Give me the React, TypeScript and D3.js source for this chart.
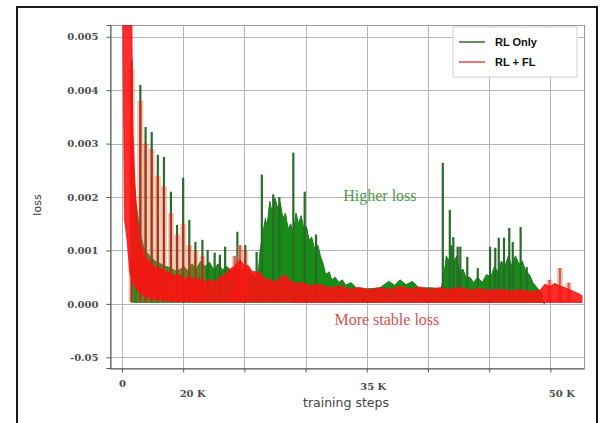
import React, { useRef, useEffect } from "react";
import * as d3 from "d3";

// x: thousands of training steps, y: loss
const xTicks = [0, 7, 14, 21, 28, 35, 42, 49];
const xTickLabels = ["0", "20 K", "", "", "35 K", "", "", "50 K"];
const yTicks = [-0.001, 0, 0.001, 0.002, 0.003, 0.004, 0.005];
const yTickLabels = ["-0.05", "0.000", "0.001", "0.002", "0.003", "0.004", "0.005"];

const seriesNames = ["RL Only", "RL + FL"];
const seriesColors = ["#2f6f3a", "#e04848"];

// RL Only: dense part of the trace [step, loss]
const rlOnlyBand: [number, number][] = [
  [1.2, 0.0028], [1.6, 0.0019], [2.1, 0.0013], [2.6, 0.001], [3.2, 0.0009],
  [3.8, 0.0008], [4.4, 0.00075], [5.0, 0.0007], [5.5, 0.00068], [6.1, 0.00062],
  [6.6, 0.00064], [7.1, 0.0007], [7.5, 0.00062], [8.0, 0.00075], [8.5, 0.00065],
  [9.0, 0.0008], [9.5, 0.0007], [10.0, 0.00078], [10.5, 0.00064], [11.0, 0.00075],
  [11.5, 0.00064], [12.0, 0.0007], [12.6, 0.0006], [13.1, 0.0007], [13.6, 0.00062],
  [14.2, 0.00068], [14.8, 0.00058], [15.2, 0.0005], [15.5, 0.0004], [15.8, 0.001],
  [16.1, 0.0013], [16.4, 0.0016], [16.6, 0.00145], [16.9, 0.00192], [17.2, 0.0017],
  [17.5, 0.00198], [17.8, 0.0018], [18.1, 0.0019], [18.4, 0.0016], [18.7, 0.0017],
  [19.0, 0.0014], [19.3, 0.0015], [19.6, 0.0013], [19.9, 0.0017], [20.2, 0.0015],
  [20.5, 0.00165], [20.8, 0.0014], [21.1, 0.00145], [21.4, 0.0012], [21.7, 0.00125],
  [22.0, 0.00105], [22.4, 0.0011], [22.7, 0.0009], [23.0, 0.00075], [23.3, 0.00055],
  [23.7, 0.0006], [24.0, 0.00045], [24.4, 0.0005], [24.8, 0.0004], [25.2, 0.00045],
  [25.6, 0.00035], [26.2, 0.0004], [26.8, 0.0003], [28.0, 0.00028], [29.5, 0.0003],
  [30.5, 0.00042], [31.2, 0.00035], [31.8, 0.00045], [32.5, 0.00036], [33.2, 0.00042],
  [34.0, 0.0003], [35.5, 0.0003], [36.5, 0.00028], [36.8, 0.0005], [37.1, 0.0009],
  [37.4, 0.0008], [37.7, 0.0011], [38.0, 0.0008], [38.3, 0.0009], [38.6, 0.0006],
  [39.0, 0.00065], [39.4, 0.00048], [39.8, 0.0005], [40.2, 0.0004], [40.7, 0.0005],
  [41.2, 0.0004], [41.7, 0.00055], [42.2, 0.0005], [42.6, 0.0007], [43.0, 0.0006],
  [43.4, 0.0008], [43.8, 0.0007], [44.2, 0.0009], [44.6, 0.0007], [45.0, 0.0009],
  [45.4, 0.00075], [45.8, 0.0008], [46.2, 0.0006], [46.6, 0.00055], [47.0, 0.0004],
  [47.5, 0.0003], [48.0, 0.0002], [48.3, 0.0],
];

// RL Only: tall spikes [step, peak loss]
const rlOnlySpikes: [number, number][] = [
  [1.1, 0.00457], [2.1, 0.0041], [2.7, 0.00331], [3.4, 0.00322], [4.1, 0.00279],
  [4.8, 0.00275], [5.6, 0.0021], [6.3, 0.00148], [7.0, 0.00236], [7.7, 0.00157],
  [8.4, 0.00116], [9.2, 0.0012], [9.8, 0.00101], [10.6, 0.00096], [11.2, 0.00092],
  [11.8, 0.00107], [13.2, 0.00135], [14.1, 0.0011], [15.4, 0.00097], [16.0, 0.00242],
  [17.3, 0.00205], [18.0, 0.002], [19.6, 0.00283], [20.9, 0.0021], [22.2, 0.0013],
  [36.7, 0.00264], [37.5, 0.00176], [37.9, 0.00125], [38.4, 0.00107], [38.7, 0.00107],
  [39.5, 0.00088], [40.7, 0.00067], [42.1, 0.00107], [42.7, 0.00105], [43.1, 0.00124],
  [43.7, 0.00124], [44.3, 0.00142], [44.7, 0.00116], [45.6, 0.00144], [46.3, 0.00069],
];

// RL + FL: band of the noisy trace [step, low, high]
const rlFlBand: [number, number, number][] = [
  [0.1, 0.0056, 0.0056], [0.3, 0.0016, 0.0056], [0.6, 0.0012, 0.0056], [0.9, 0.0006, 0.0056],
  [1.1, 0.00045, 0.0056], [1.2, 0.0004, 0.0034], [1.5, 0.00032, 0.0021], [1.7, 0.00027, 0.0016],
  [2.1, 0.0002, 0.00114], [2.6, 0.00015, 0.0009], [3.2, 0.0001, 0.00077], [3.8, 0.00009, 0.00068],
  [4.4, 0.00008, 0.00066], [5.0, 0.00007, 0.0006], [5.5, 0.00006, 0.00058], [6.1, 0.00005, 0.00052],
  [6.6, 0.00005, 0.00054], [7.2, 0.00005, 0.00046], [7.8, 0.00005, 0.0005], [8.4, 0.00004, 0.00044],
  [8.9, 0.00004, 0.00048], [9.5, 0.00004, 0.0004], [10.1, 0.00004, 0.00046], [10.6, 0.00004, 0.0004],
  [11.2, 0.00004, 0.0005], [11.8, 0.00004, 0.00055], [12.4, 0.00004, 0.00065], [12.9, 0.00004, 0.0007],
  [13.5, 0.00004, 0.00082], [14.0, 0.00004, 0.0007], [14.4, 0.00004, 0.00072], [14.9, 0.00004, 0.0006],
  [15.2, 0.00004, 0.0006], [15.8, 0.00004, 0.00058], [16.4, 0.00004, 0.00045], [16.9, 0.00004, 0.00046],
  [17.5, 0.00004, 0.0004], [18.1, 0.00004, 0.00048], [18.6, 0.00004, 0.00054], [19.2, 0.00004, 0.00044],
  [19.8, 0.00003, 0.00038], [20.4, 0.00003, 0.0004], [21.5, 0.00003, 0.00034], [22.6, 0.00003, 0.00036],
  [23.8, 0.00003, 0.0003], [24.9, 0.00003, 0.00033], [26.1, 0.00003, 0.00028], [27.2, 0.00003, 0.0003],
  [28.4, 0.00003, 0.00026], [29.5, 0.00003, 0.0003], [30.7, 0.00003, 0.00027], [31.8, 0.00003, 0.00032],
  [33.0, 0.00003, 0.00028], [34.1, 0.00003, 0.00031], [35.2, 0.00003, 0.00027], [36.4, 0.00003, 0.0003],
  [37.5, 0.00003, 0.00027], [38.7, 0.00003, 0.0003], [39.8, 0.00003, 0.00026], [41.0, 0.00003, 0.00028],
  [42.1, 0.00003, 0.00025], [43.2, 0.00003, 0.00027], [44.4, 0.00003, 0.00024], [45.5, 0.00003, 0.00026],
  [46.7, 0.00003, 0.00023], [47.8, 0.00003, 0.00025], [48.4, 0.00003, 0.00036], [49.0, 0.00003, 0.00032],
  [49.5, 0.00003, 0.00038], [50.1, 0.00003, 0.00033], [50.7, 0.00003, 0.0003], [51.2, 0.00003, 0.00026],
  [51.8, 0.00003, 0.00022], [52.3, 0.00003, 0.00018], [52.6, 0.00003, 0.00015],
];

// RL + FL: spikes [step, peak loss]
const rlFlSpikes: [number, number][] = [
  [1.1, 0.0044], [2.1, 0.0038], [2.7, 0.003], [3.4, 0.0029], [4.1, 0.0024], [4.8, 0.0022],
  [5.6, 0.0017], [6.3, 0.0013], [7.0, 0.0015], [7.7, 0.0011], [8.4, 0.001], [9.2, 0.0009],
  [12.9, 0.0009], [13.5, 0.0011], [14.1, 0.001], [48.9, 0.00045], [50.1, 0.00067], [51.1, 0.0004],
];

const annotations = [
  { text: "Higher loss", step: 29.5, loss: 0.00193, color: "#4f9a4f" },
  { text: "More stable loss", step: 30.3, loss: -0.0004, color: "#d25252" },
];

const App = () => {
  const ref = useRef<SVGSVGElement>(null);

  useEffect(() => {
    const width = 602;
    const height = 423;
    const plot = { left: 110, right: 584, top: 25, bottom: 368 };

    const svg = d3.select(ref.current).attr("width", width).attr("height", height);
    svg.selectAll("*").remove();

    const x = d3.scaleLinear().domain([-1.37, 52.85]).range([plot.left, plot.right]);
    const y = d3.scaleLinear().domain([-0.0012, 0.00522]).range([plot.bottom, plot.top]);

    // outer frame
    svg
      .append("rect")
      .attr("x", 17)
      .attr("y", 7)
      .attr("width", 580)
      .attr("height", 440)
      .attr("fill", "#fff")
      .attr("stroke", "#1a1a1a")
      .attr("stroke-width", 2);

    // grid
    const grid = svg.append("g").attr("stroke", "#b4b4b4").attr("stroke-width", 1);
    grid
      .selectAll(".hg")
      .data(yTicks)
      .enter()
      .append("line")
      .attr("x1", plot.left)
      .attr("x2", plot.right)
      .attr("y1", (d) => Math.round(y(d)) + 0.5)
      .attr("y2", (d) => Math.round(y(d)) + 0.5);
    grid
      .selectAll(".vg")
      .data(xTicks)
      .enter()
      .append("line")
      .attr("y1", plot.top)
      .attr("y2", plot.bottom)
      .attr("x1", (d) => Math.round(x(d)) + 0.5)
      .attr("x2", (d) => Math.round(x(d)) + 0.5);
    svg
      .append("rect")
      .attr("x", plot.left + 0.5)
      .attr("y", plot.top + 0.5)
      .attr("width", plot.right - plot.left)
      .attr("height", plot.bottom - plot.top)
      .attr("fill", "none")
      .attr("stroke", "#9a9a9a");

    // data
    svg
      .append("clipPath")
      .attr("id", "plot-clip")
      .append("rect")
      .attr("x", plot.left)
      .attr("y", plot.top)
      .attr("width", plot.right - plot.left)
      .attr("height", plot.bottom - plot.top);
    const g = svg.append("g").attr("clip-path", "url(#plot-clip)");

    const base = y(0.00003);

    const greenArea = d3
      .area<[number, number]>()
      .x((d) => x(d[0]))
      .y0(base)
      .y1((d) => y(d[1]));
    g.append("path")
      .attr("d", greenArea(rlOnlyBand))
      .attr("fill", "#178c17")
      .attr("stroke", "#1f7a1f")
      .attr("stroke-width", 1);

    g.selectAll(".gs")
      .data(rlOnlySpikes)
      .enter()
      .append("line")
      .attr("x1", (d) => x(d[0]))
      .attr("x2", (d) => x(d[0]))
      .attr("y1", base)
      .attr("y2", (d) => y(d[1]))
      .attr("stroke", "#2a6a2a")
      .attr("stroke-width", 2.2);

    // faint halo around the RL + FL spikes, then their cores
    g.selectAll(".rh")
      .data(rlFlSpikes)
      .enter()
      .append("line")
      .attr("x1", (d) => x(d[0]))
      .attr("x2", (d) => x(d[0]))
      .attr("y1", base)
      .attr("y2", (d) => y(d[1]))
      .attr("stroke", "#e86a3a")
      .attr("stroke-opacity", 0.38)
      .attr("stroke-width", 6);
    g.selectAll(".rs")
      .data(rlFlSpikes)
      .enter()
      .append("line")
      .attr("x1", (d) => x(d[0]))
      .attr("x2", (d) => x(d[0]))
      .attr("y1", base)
      .attr("y2", (d) => y(d[1]))
      .attr("stroke", "#c01a10")
      .attr("stroke-opacity", 0.6)
      .attr("stroke-width", 2.2);

    const redArea = d3
      .area<[number, number, number]>()
      .x((d) => x(d[0]))
      .y0((d) => y(d[1]))
      .y1((d) => y(d[2]));
    g.append("path")
      .attr("d", redArea(rlFlBand))
      .attr("fill", "#ff1010")
      .attr("fill-opacity", 0.88)
      .attr("stroke", "#f01818")
      .attr("stroke-width", 1.5)
      .attr("stroke-opacity", 0.8);

    // y axis
    const yAxis = svg
      .append("g")
      .attr("transform", `translate(${plot.left + 0.5},0)`)
      .call(
        d3
          .axisLeft(y)
          .tickValues(yTicks)
          .tickSize(4)
          .tickPadding(8)
          .tickFormat((d, i) => yTickLabels[i])
      );
    yAxis.select(".domain").attr("stroke", "#555");
    yAxis.selectAll(".tick line").attr("stroke", "#555");
    yAxis
      .selectAll(".tick text")
      .attr("fill", "#4a4a4a")
      .style("font-family", "'DejaVu Serif', serif")
      .style("font-weight", "bold")
      .style("font-size", "10px");

    // x axis
    const labelShift = [0, 9, 0, 0, 6, 0, 0, 11];
    const labelDrop = ["1.05em", "2.05em", "0", "0", "1.35em", "0", "0", "2.05em"];
    const xAxis = svg
      .append("g")
      .attr("transform", `translate(0,${plot.bottom + 0.5})`)
      .call(
        d3
          .axisBottom(x)
          .tickValues(xTicks)
          .tickSize(4)
          .tickSizeOuter(0)
          .tickPadding(4)
          .tickFormat((d, i) => xTickLabels[i])
      );
    xAxis.select(".domain").attr("stroke", "#555");
    xAxis.selectAll(".tick line").attr("stroke", "#555");
    xAxis
      .selectAll(".tick text")
      .attr("fill", "#4a4a4a")
      .attr("dx", (d, i) => labelShift[i])
      .attr("dy", (d, i) => labelDrop[i])
      .style("font-family", "'DejaVu Serif', serif")
      .style("font-weight", "bold")
      .style("font-size", "10px");

    svg
      .append("text")
      .attr("x", 346)
      .attr("y", 407)
      .attr("text-anchor", "middle")
      .attr("fill", "#444")
      .style("font-family", "'DejaVu Sans', sans-serif")
      .style("font-size", "12.5px")
      .text("training steps");

    svg
      .append("text")
      .attr("transform", "translate(41,205) rotate(-90)")
      .attr("text-anchor", "middle")
      .attr("fill", "#333")
      .style("font-family", "'DejaVu Sans', sans-serif")
      .style("font-size", "11px")
      .text("loss");

    // annotations
    svg
      .selectAll(".note")
      .data(annotations)
      .enter()
      .append("text")
      .attr("x", (d) => x(d.step))
      .attr("y", (d) => y(d.loss))
      .attr("text-anchor", "middle")
      .attr("fill", (d) => d.color)
      .style("font-family", "'Liberation Serif', serif")
      .style("font-size", "16px")
      .text((d) => d.text);

    // legend
    const legend = svg.append("g").attr("transform", "translate(453,27)");
    legend
      .append("rect")
      .attr("width", 124)
      .attr("height", 50)
      .attr("fill", "#fff")
      .attr("stroke", "#d0d0d0");
    const item = legend
      .selectAll(".item")
      .data(seriesNames)
      .enter()
      .append("g")
      .attr("transform", (d, i) => `translate(0,${15 + i * 20})`);
    item
      .append("line")
      .attr("x1", 6)
      .attr("x2", 32)
      .attr("stroke", (d, i) => seriesColors[i])
      .attr("stroke-width", 1.5);
    item
      .append("text")
      .attr("x", 42)
      .attr("dy", "0.35em")
      .attr("fill", "#111")
      .style("font-family", "'Liberation Sans', Arial, sans-serif")
      .style("font-weight", "bold")
      .style("font-size", "11px")
      .text((d) => d);
  }, []);

  return (
    <svg ref={ref} style={{ position: "absolute", left: 0, top: 0, background: "#fff" }}></svg>
  );
};

export default App;
